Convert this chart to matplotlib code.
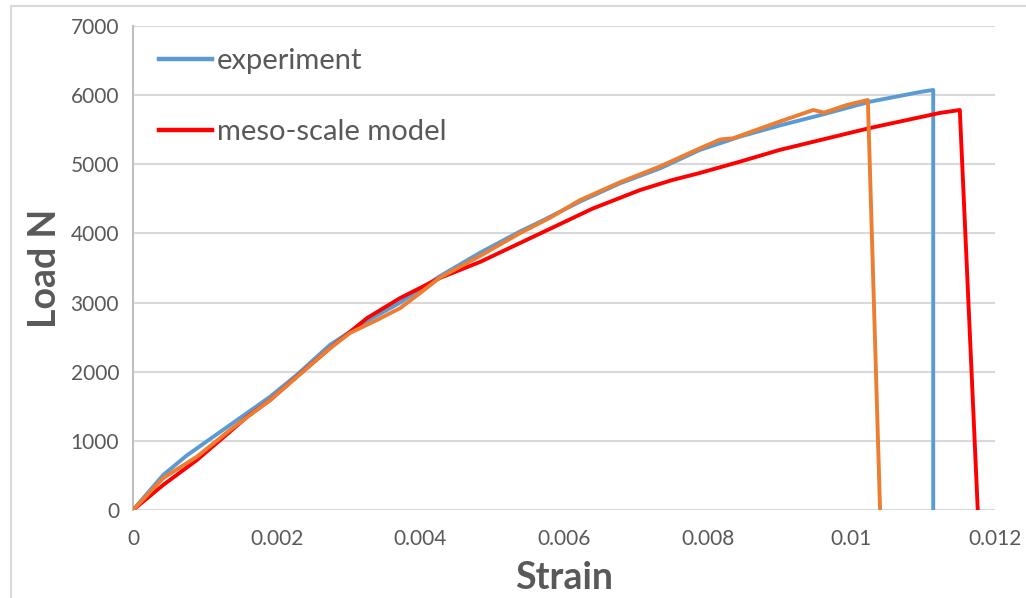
import matplotlib
matplotlib.use("Agg")
import matplotlib.pyplot as plt
from matplotlib.patches import Rectangle

plt.rcParams['font.family'] = ['Lato', 'DejaVu Sans']

# experiment (blue)
exp_strain = [0, 0.00042, 0.00075, 0.00135, 0.00191, 0.00228, 0.00274, 0.00320, 0.00372,
              0.00427, 0.00483, 0.00539, 0.00567, 0.00622, 0.00678, 0.00734, 0.00789,
              0.00845, 0.00900, 0.00960, 0.01026, 0.01096, 0.01114, 0.01114]
exp_load = [0, 506, 790, 1229, 1639, 1953, 2386, 2700, 3000,
            3380, 3720, 4030, 4170, 4459, 4725, 4942, 5207,
            5400, 5560, 5720, 5905, 6046, 6075, 0]

# second test curve (orange, not in legend)
test_strain = [0, 0.00042, 0.00089, 0.00135, 0.00191, 0.00274, 0.00302, 0.00340, 0.00372,
               0.00400, 0.00427, 0.00483, 0.00539, 0.00580, 0.00622, 0.00678, 0.00734,
               0.00789, 0.00818, 0.00835, 0.00900, 0.00947, 0.00962, 0.00994, 0.01023, 0.01040]
test_load = [0, 462, 771, 1157, 1591, 2338, 2560, 2750, 2920,
             3140, 3360, 3674, 4006, 4223, 4480, 4740, 4970,
             5230, 5360, 5375, 5617, 5785, 5747, 5858, 5930, 0]

# meso-scale model (red)
model_strain = [0, 0.00042, 0.00089, 0.00135, 0.00159, 0.00191, 0.00228, 0.00274, 0.00326,
                0.00372, 0.00427, 0.00483, 0.00580, 0.00640, 0.00706, 0.00750, 0.00789,
                0.00845, 0.00900, 0.01026, 0.01123, 0.01151, 0.01176]
model_load = [0, 362, 723, 1133, 1350, 1591, 1928, 2338, 2777,
              3066, 3355, 3587, 4064, 4360, 4628, 4770, 4874,
              5038, 5207, 5525, 5742, 5785, 0]

xticks = [0, 0.002, 0.004, 0.006, 0.008, 0.01, 0.012]
xtick_labels = ['0', '0.002', '0.004', '0.006', '0.008', '0.01', '0.012']
yticks = [0, 1000, 2000, 3000, 4000, 5000, 6000, 7000]

txt = '#595959'
grid = '#d9d9d9'

fig = plt.figure(figsize=(10.26, 5.98), dpi=100)
fig.patches.append(Rectangle((11 / 1026, -0.1), 1.2, (598 - 6) / 598 + 0.1,
                             transform=fig.transFigure, fill=False,
                             edgecolor=grid, linewidth=1.5))
ax = fig.add_axes([133 / 1026, 88 / 598, (995 - 133) / 1026, (510 - 26) / 598])

ax.plot(exp_strain, exp_load, color='#5b9bd5', lw=2.8, label='experiment',
        solid_joinstyle='round', zorder=3)
ax.plot(model_strain, model_load, color='#ff0000', lw=2.8, label='meso-scale model',
        solid_joinstyle='round', zorder=4)
ax.plot(test_strain, test_load, color='#ed7d31', lw=2.8,
        solid_joinstyle='round', zorder=5)

ax.set_xlim(0, 0.012)
ax.set_ylim(0, 7000)
ax.set_xticks(xticks)
ax.set_xticklabels(xtick_labels)
ax.set_yticks(yticks)
ax.grid(axis='y', color=grid, lw=1.5)
ax.set_axisbelow(True)
for s in ['top', 'right', 'bottom']:
    ax.spines[s].set_visible(False)
ax.spines['left'].set_color('#bfbfbf')
ax.spines['left'].set_linewidth(1.5)
ax.tick_params(length=0, labelsize=15, labelcolor=txt, pad=10)
ax.tick_params(axis='x', pad=14)

ax.set_xlabel('Strain', fontsize=27, fontweight='bold', color=txt, labelpad=8)
ax.set_ylabel('Load N', fontsize=27, fontweight='bold', color=txt, labelpad=6)

leg = ax.legend(loc='upper left', bbox_to_anchor=(0.005, 1.0), frameon=False,
                fontsize=21, labelcolor=txt, handlelength=1.8, handletextpad=0.18,
                labelspacing=1.55, borderaxespad=0.4, borderpad=0.35)
for h in leg.get_lines():
    h.set_linewidth(3.2)

fig.savefig('out.png', dpi=100)
